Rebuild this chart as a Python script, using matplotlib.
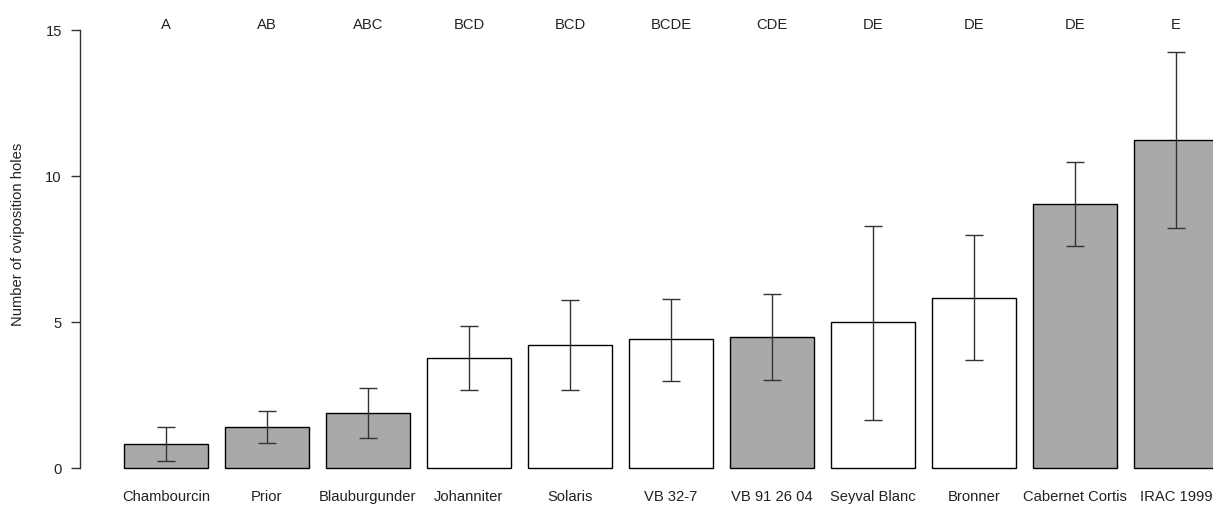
import matplotlib
matplotlib.use("Agg")
import matplotlib.pyplot as plt
import numpy as np

plt.rcParams['font.family'] = ['Liberation Sans', 'DejaVu Sans']

cultivars = ["Chambourcin", "Prior", "Blauburgunder", "Johanniter", "Solaris",
             "VB 32-7", "VB 91 26 04", "Seyval Blanc", "Bronner",
             "Cabernet Cortis", "IRAC 1999"]
means = [0.83, 1.41, 1.89, 3.76, 4.22, 4.41, 4.48, 5.00, 5.84, 9.03, 11.24]
err_low = [0.24, 0.86, 1.03, 2.67, 2.67, 2.99, 3.02, 1.66, 3.71, 7.62, 8.22]
err_high = [1.41, 1.96, 2.76, 4.87, 5.75, 5.80, 5.97, 8.29, 7.97, 10.49, 14.25]
letters = ["A", "AB", "ABC", "BCD", "BCD", "BCDE", "CDE", "DE", "DE", "DE", "E"]
fills = ["#A9A9A9", "#A9A9A9", "#A9A9A9", "white", "white", "white",
         "#A9A9A9", "white", "white", "#A9A9A9", "#A9A9A9"]

W, H = 1213, 505
fig = plt.figure(figsize=(W / 100, H / 100), dpi=100)
left_px, right_px = 80, 1213
top_px, bot_px = 30, 468.3
ax = fig.add_axes([left_px / W, 1 - bot_px / H, (right_px - left_px) / W, (bot_px - top_px) / H])

x = np.arange(len(cultivars))
m = np.array(means)
yerr = np.vstack([m - np.array(err_low), np.array(err_high) - m])
bars = ax.bar(x, m, width=0.835, color=fills, edgecolor="black", linewidth=1.0, zorder=2)
for b in bars:
    b.set_clip_on(False)
ax.errorbar(x, m, yerr=yerr, fmt="none", ecolor="#333333", elinewidth=1.0,
            capsize=6.7, capthick=1.0, zorder=3)

ax.set_xlim(-0.851, 10.366)
ax.set_ylim(0, 15)

fs = 10.6
for xi, lab in zip(x, letters):
    ax.text(xi, 15.17, lab, ha="center", va="center", fontsize=fs,
            color="#222222", clip_on=False)

ax.set_xticks(x)
ax.set_xticklabels(cultivars, fontsize=fs, color="#222222")
ax.tick_params(axis="x", length=0, pad=15.5)
ax.set_yticks([0, 5, 10, 15])
ax.tick_params(axis="y", length=6.5, pad=6.5, labelsize=fs, color="#333333",
               labelcolor="#222222", width=1.0)

for s in ["top", "right", "bottom"]:
    ax.spines[s].set_visible(False)
ax.spines["left"].set_color("#333333")
ax.spines["left"].set_linewidth(1.0)

fig.text(18 / W, 1 - 234 / H, "Number of oviposition holes", rotation=90,
         ha="center", va="center", fontsize=fs, color="#222222")

fig.savefig("out.png", dpi=100)
